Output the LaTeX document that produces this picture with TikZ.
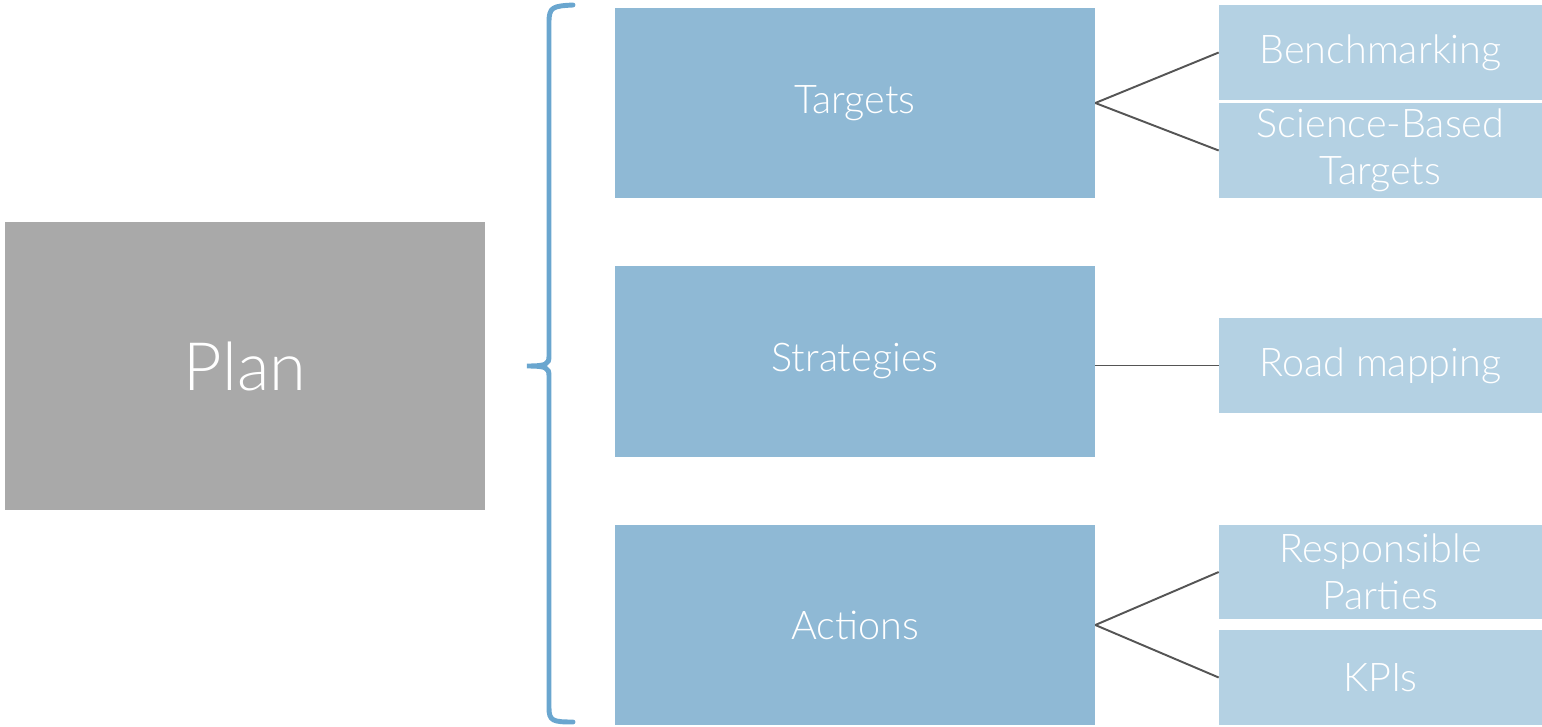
\documentclass[tikz,border=0pt]{standalone}
\usepackage{fontspec}
\setmainfont{Lato}[UprightFont=* Light]
\usepackage{xcolor}
\usepackage{tikz}
\usetikzlibrary{calc}

\definecolor{plangray}{HTML}{A9A9A9}
\definecolor{midblue}{HTML}{8FB9D5}
\definecolor{lightblue}{HTML}{B4D1E3}
\definecolor{braceblue}{HTML}{6AA6CF}
\definecolor{linegray}{HTML}{555555}

\begin{document}
\begin{tikzpicture}[x=0.02cm, y=-0.02cm,
  box/.style={inner sep=0pt, text=white, align=center, font=\fontsize{22.5}{26.5}\selectfont},
  mid/.style={box, fill=midblue, minimum width=9.6cm},
  sub/.style={box, fill=lightblue, minimum width=6.46cm, minimum height=1.9cm},
  link/.style={linegray, line width=1.1pt}]
\useasboundingbox (0,0) rectangle (1542,727);
\node [box, fill=plangray, minimum width=9.6cm, minimum height=5.76cm, font=\fontsize{38}{44}\selectfont] (plan) at (245,366) {Plan};
\draw [braceblue, line width=2.8pt, line cap=round] (573,5) .. controls (553,6) and (549,7) .. (549,22) -- (549,356) .. controls (549,364) and (547,366) .. (527,366) .. controls (547,366) and (549,368) .. (549,376) -- (549,708) .. controls (549,721) and (553,722) .. (573,722);
\node [mid, minimum height=3.8cm] (targets) at (855,103) {Targets};
\node [mid, minimum height=3.82cm] (strategies) at (855,361.5) {Strategies};
\node [mid, minimum height=4.0cm] (actions) at (855,625) {Actions};
\node [sub] (bench) at (1380.5,52.5) {Benchmarking};
\node [sub] (sbt) at (1380.5,150.5) {Science-Based\\Targets};
\node [sub] (road) at (1380.5,365.5) {Road mapping};
\node [sub, minimum height=1.88cm] (parties) at (1380.5,572) {Responsible\\Parties};
\node [sub] (kpis) at (1380.5,677.5) {KPIs};
\draw [link] (targets.east) -- (bench.west);
\draw [link] (targets.east) -- (sbt.west);
\draw [link] (strategies.east |- road.west) -- (road.west);
\draw [link] (actions.east) -- (parties.west);
\draw [link] (actions.east) -- (kpis.west);
\end{tikzpicture}
\end{document}
